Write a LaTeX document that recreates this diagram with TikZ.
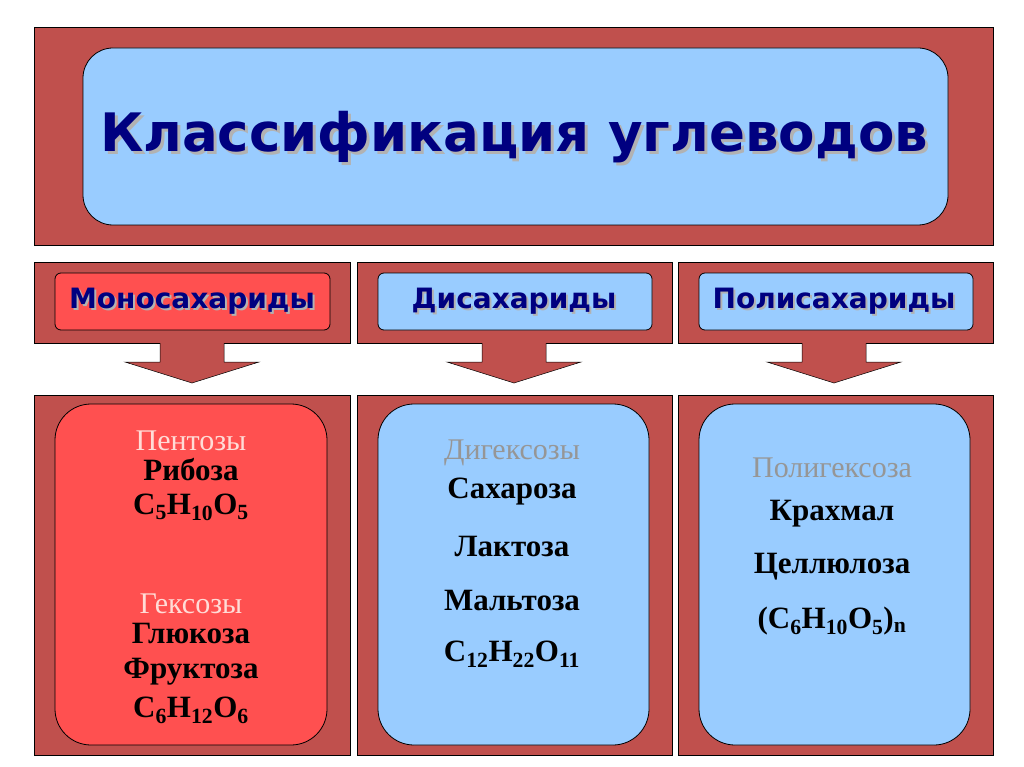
\documentclass[tikz,border=0pt]{standalone}
\usepackage{fontspec}
\setmainfont{Liberation Serif}
\newfontfamily\comic{DejaVu Sans}
\definecolor{brick}{RGB}{192,80,77}
\definecolor{lblue}{RGB}{153,204,255}
\definecolor{bred}{RGB}{255,80,80}
\definecolor{navy}{RGB}{0,0,128}
\definecolor{greyt}{RGB}{150,150,150}
\definecolor{pinkt}{RGB}{255,220,215}
\begin{document}
\begin{tikzpicture}[x=1pt,y=-1pt,
  frame/.style={draw=black,fill=brick,line width=0.8pt},
  rbox/.style={draw=black,line width=0.8pt,rounded corners=#1},
  ttl/.style={font=\comic\bfseries\fontsize{#1}{#1}\selectfont,text=navy},
  hd/.style={inner sep=0pt,font=\fontsize{30}{30}\selectfont},
  it/.style={inner sep=0pt,font=\bfseries\fontsize{31}{31}\selectfont}]
\useasboundingbox (0,0) rectangle (1024,767);
\fill[white] (0,0) rectangle (1024,767);
% top
\draw[frame] (34,27) rectangle (993,245);
\draw[rbox=30pt,fill=lblue] (83,48) rectangle (948,225);
\node[ttl=53,text=gray!60] at (517,140) {Классификация углеводов};
\node[ttl=53] (title) at (514,137) {Классификация углеводов};
% columns
\foreach \l/\r/\c/\f/\t/\n in {34/350/192/bred/Моносахариды/m, 357/672/514/lblue/Дисахариды/d, 678/993/834/lblue/Полисахариды/p}{
  \draw[frame] (\l,262) rectangle (\r,343);
  \draw[rbox=6pt,fill=\f] (\l+21,273) rectangle (\r-20,330);
  \node[ttl=28,text=gray!60] at (\c+2,303) {\t};
  \node[ttl=28] (\n lab) at (\c,301) {\t};
  \draw[frame,line width=0.5pt] (\c-32,343) -- (\c-32,362) -- (\c-67,362) -- (\c,383) -- (\c+67,362) -- (\c+32,362) -- (\c+32,343);
  \draw[frame] (\l,395) rectangle (\r,755);
  \draw[rbox=36pt,fill=\f] (\l+21,404) rectangle (\r-23,745);
}
% left
\node[hd,text=pinkt] (a1) at (191,441) {Пентозы};
\node[it] (a2) at (191,470) {Рибоза};
\node[it] (a3) at (191,507) {C\textsubscript{5}H\textsubscript{10}O\textsubscript{5}};
\node[hd,text=pinkt] (a4) at (191,604) {Гексозы};
\node[it] (a5) at (191,633) {Глюкоза};
\node[it] (a6) at (191,672) {Фруктоза};
\node[it] (a7) at (191,710) {C\textsubscript{6}H\textsubscript{12}O\textsubscript{6}};
% middle
\node[hd,text=greyt] (b1) at (512,453) {Дигексозы};
\node[it] (b2) at (512,492) {Сахароза};
\node[it] (b3) at (512,546) {Лактоза};
\node[it] (b4) at (512,600) {Мальтоза};
\node[it] (b5) at (512,654) {C\textsubscript{12}H\textsubscript{22}O\textsubscript{11}};
% right
\node[hd,text=greyt] (c1) at (832,468) {Полигексоза};
\node[it] (c2) at (832,514) {Крахмал};
\node[it] (c3) at (832,567) {Целлюлоза};
\node[it] (c4) at (832,621) {(C\textsubscript{6}H\textsubscript{10}O\textsubscript{5})\textsubscript{n}};
\end{tikzpicture}
\end{document}
